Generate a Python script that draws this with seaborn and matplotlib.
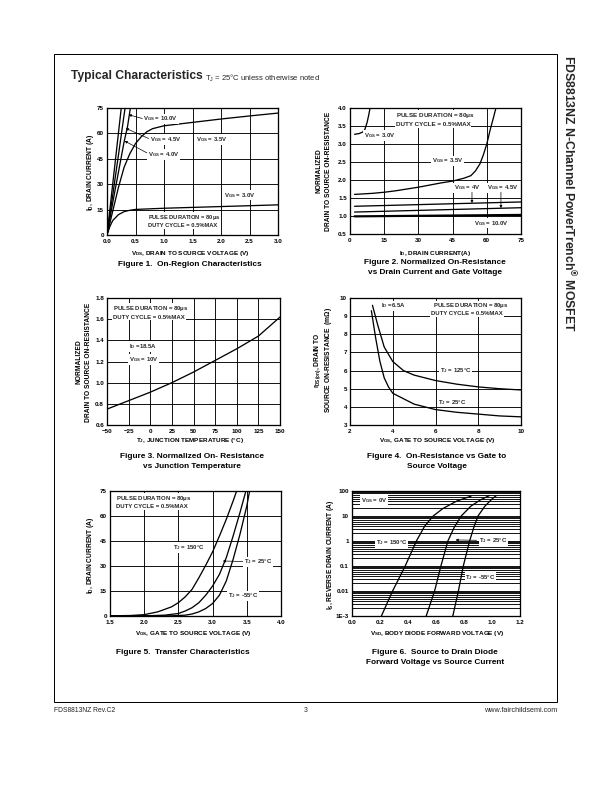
import numpy as np
import pandas as pd
import matplotlib
matplotlib.use("Agg")
import matplotlib.pyplot as plt
import seaborn as sns

# ---------------- data ----------------
# Figure 1: On-region characteristics (VDS V, ID A)
f1_vds_10 = [0.0, 0.1, 0.2, 0.26]
f1_id_10 = [0, 30, 60, 78]
f1_vds_45 = [0.0, 0.1, 0.2, 0.3, 0.33]
f1_id_45 = [0, 23.5, 47, 71, 78]
f1_vds_40 = [0.0, 0.1, 0.2, 0.3, 0.36, 0.41, 0.43]
f1_id_40 = [0, 19, 37, 55, 64, 75, 78]
f1_vds_35 = [0.0, 0.05, 0.1, 0.2, 0.3, 0.4, 0.5, 0.6, 0.7, 0.8, 1.0, 1.5, 2.0, 2.5, 3.0]
f1_id_35 = [0, 7, 14, 28, 40, 48, 54, 58, 61, 62.8, 64.5, 66.5, 68.5, 70.3, 72]
f1_vds_30 = [0.0, 0.05, 0.1, 0.2, 0.3, 0.4, 0.5, 1.0, 1.5, 2.0, 2.5, 3.0]
f1_id_30 = [0, 5, 8.5, 12, 13.8, 14.6, 15.1, 15.8, 16.3, 16.8, 17.3, 17.8]

# Figure 2: Normalized on-resistance vs ID
f2_id_30 = [2, 4, 5.5, 6.5, 7.5, 8.2, 8.8, 9.2]
f2_r_30 = [3.27, 3.29, 3.33, 3.4, 3.6, 3.8, 4.0, 4.2]
f2_id_35 = [2, 10, 15, 20, 30, 40, 45, 50, 53, 55, 57, 58.5, 60, 61.5, 63, 64.2]
f2_r_35 = [1.6, 1.63, 1.66, 1.7, 1.8, 1.92, 1.97, 2.05, 2.12, 2.25, 2.45, 2.7, 3.0, 3.4, 3.75, 4.05]
f2_id_4 = [2, 75]
f2_r_4 = [1.27, 1.39]
f2_id_45 = [2, 75]
f2_r_45 = [1.11, 1.23]
f2_id_10 = [2, 75]
f2_r_10 = [0.99, 1.03]

# Figure 3: Normalized on-resistance vs junction temperature
f3_tj = [-50, -25, 0, 25, 50, 75, 100, 125, 150]
f3_r = [0.75, 0.83, 0.91, 1.0, 1.1, 1.21, 1.32, 1.44, 1.62]

# Figure 4: rDS(on) vs VGS
f4_vgs_125 = [3.05, 3.3, 3.6, 4.0, 4.5, 5.0, 6.0, 7.0, 8.0, 9.0, 10.0]
f4_r_125 = [9.6, 8.5, 7.3, 6.5, 6.0, 5.75, 5.45, 5.25, 5.1, 5.0, 4.93]
f4_vgs_25 = [3.0, 3.2, 3.4, 3.6, 3.8, 4.0, 5.0, 6.0, 7.0, 8.0, 9.0, 10.0]
f4_r_25 = [9.3, 7.8, 6.5, 5.6, 5.1, 4.75, 4.15, 3.85, 3.7, 3.6, 3.5, 3.45]

# Figure 5: Transfer characteristics
f5_vgs_150 = [1.5, 1.8, 2.0, 2.2, 2.4, 2.5, 2.6, 2.7, 2.8, 2.9, 3.0, 3.1, 3.2, 3.3, 3.36]
f5_id_150 = [0.1, 0.3, 0.8, 2.5, 5.5, 8, 11.5, 16, 23, 30.5, 38.5, 48, 58, 69, 76]
f5_vgs_25 = [1.5, 2.0, 2.3, 2.5, 2.6, 2.7, 2.8, 2.9, 3.0, 3.1, 3.2, 3.3, 3.4, 3.5]
f5_id_25 = [0, 0.1, 0.5, 1.5, 3, 5, 8, 12.5, 18, 25, 35, 48, 62, 77]
f5_vgs_m55 = [1.5, 2.4, 2.6, 2.7, 2.8, 2.9, 3.0, 3.1, 3.2, 3.3, 3.4, 3.5, 3.55]
f5_id_m55 = [0, 0.1, 0.5, 1.2, 2.5, 4.5, 7.5, 12.5, 21, 34, 49, 66, 77]

# Figure 6: Source to drain diode forward voltage
f6_vsd_150 = [0.21, 0.29, 0.38, 0.46, 0.52, 0.58, 0.65, 0.75, 0.85]
f6_is_150 = [1e-3, 0.01, 0.1, 1, 4, 10, 20, 40, 62]
f6_vsd_25 = [0.53, 0.59, 0.635, 0.685, 0.73, 0.78, 0.85, 0.92, 0.98]
f6_is_25 = [1e-3, 0.01, 0.1, 1, 3.5, 10, 25, 45, 65]
f6_vsd_m55 = [0.72, 0.76, 0.795, 0.84, 0.87, 0.9, 0.95, 1.0, 1.03]
f6_is_m55 = [1e-3, 0.01, 0.1, 1, 3.5, 10, 25, 48, 65]

# ---------------- style ----------------
sns.set_theme(style="white")
plt.rcParams['font.family'] = ['Liberation Sans', 'DejaVu Sans']
plt.rcParams['mathtext.fontset'] = 'custom'
plt.rcParams['mathtext.rm'] = 'Liberation Sans:bold'
plt.rcParams['mathtext.it'] = 'Liberation Sans:bold'
plt.rcParams['mathtext.bf'] = 'Liberation Sans:bold'
plt.rcParams['mathtext.sf'] = 'Liberation Sans'
plt.rcParams['mathtext.default'] = 'rm'

W, H = 612, 792
fig = plt.figure(figsize=(W / 72, H / 72), dpi=72)
fig.patch.set_facecolor('white')

TICK = 6.3
NOTE = 6.0
XLAB = 6.4
YLAB = 6.6
CAP = 8.2


def P(x, y):
    return x / W, 1 - y / H


def ftext(x, y, s, **kw):
    d = dict(fontsize=XLAB, fontweight='bold', ha='center', va='center', color='black')
    d.update(kw)
    fig.text(*P(x, y), s, **d)


def make_ax(l, t, r, b):
    ax = fig.add_axes([l / W, 1 - b / H, (r - l) / W, (b - t) / H])
    ax.set_facecolor('white')
    for s in ax.spines.values():
        s.set_visible(True)
        s.set_color('black')
        s.set_linewidth(1.3)
    ax.tick_params(axis='x', length=0, pad=4.2, labelsize=TICK, colors='black')
    ax.tick_params(axis='y', length=0, pad=3.0, labelsize=TICK, colors='black')
    return ax


def grid(ax, xs=None, ys=None, lw=0.9):
    for x in (xs or []):
        ax.axvline(x, color='black', lw=lw, zorder=1)
    for y in (ys or []):
        ax.axhline(y, color='black', lw=lw, zorder=1)


def curve(ax, x, y, lw=1.3):
    sns.lineplot(x=x, y=y, ax=ax, color='black', lw=lw, sort=False, zorder=3, legend=False)


def note(ax, x, y, s, ha='left', size=NOTE):
    ax.text(x, y, s, ha=ha, va='center', fontsize=size, fontweight='bold', zorder=6,
            bbox=dict(fc='white', ec='none', pad=0.8))


def arrow(ax, xy, xytext):
    ax.annotate('', xy=xy, xytext=xytext, zorder=6,
                arrowprops=dict(arrowstyle='-|>', lw=0.7, color='black', mutation_scale=5,
                                shrinkA=0, shrinkB=0))


def finish(ax):
    ax.set_xlabel('')
    ax.set_ylabel('')
    for lab in ax.get_xticklabels() + ax.get_yticklabels():
        lab.set_fontweight('bold')


# ---------------- page frame ----------------
fig.add_artist(plt.Rectangle(P(54, 702), (557 - 54) / W, (702 - 54) / H, transform=fig.transFigure,
                             fill=False, ec='black', lw=1.0))
fig.text(*P(71, 76), 'Typical Characteristics', fontsize=12, fontweight='bold', ha='left', va='center')
fig.text(*P(205, 78), r'T$_\mathsf{J}$ = 25°C unless otherwise noted', fontsize=7.6, ha='left', va='center')
fig.text(*P(569, 55), r'FDS8813NZ N-Channel PowerTrench$^{\circledR}$ MOSFET', fontsize=12.2,
         fontweight='bold', rotation=-90, ha='center', va='top')
fig.text(*P(54, 710), 'FDS8813NZ Rev.C2', fontsize=6.7, ha='left', va='center')
fig.text(*P(306, 710), '3', fontsize=6.7, ha='center', va='center')
fig.text(*P(557, 710), 'www.fairchildsemi.com', fontsize=7.2, ha='right', va='center')

# ---------------- Figure 1 ----------------
ax = make_ax(107, 108, 278, 235)
grid(ax, [0.5, 1.0, 1.5, 2.0, 2.5], [15, 30, 45, 60])
for xv, yv in [(f1_vds_10, f1_id_10), (f1_vds_45, f1_id_45), (f1_vds_40, f1_id_40),
               (f1_vds_35, f1_id_35), (f1_vds_30, f1_id_30)]:
    curve(ax, xv, yv)
ax.set_xlim(0, 3.0)
ax.set_ylim(0, 75)
ax.set_xticks(np.arange(0, 3.01, 0.5))
ax.set_xticklabels([f'{v:.1f}' for v in np.arange(0, 3.01, 0.5)])
ax.set_yticks(np.arange(0, 76, 15))
note(ax, 0.64, 68.5, r'V$_{GS}$ = 10.0V')
arrow(ax, (0.38, 71), (0.62, 68.8))
note(ax, 0.75, 56.5, r'V$_{GS}$ = 4.5V')
arrow(ax, (0.33, 63), (0.73, 57))
note(ax, 0.72, 47.5, r'V$_{GS}$ = 4.0V')
arrow(ax, (0.31, 55.5), (0.70, 48.5))
note(ax, 1.57, 56.5, r'V$_{GS}$ = 3.5V')
note(ax, 2.06, 23.5, r'V$_{GS}$ = 3.0V')
note(ax, 0.72, 10.4, r'PULSE DURATION = 80$\mu$s', size=5.8)
note(ax, 0.72, 5.4, 'DUTY CYCLE = 0.5%MAX', size=5.8)
finish(ax)
ftext(190, 254, r'V$_{DS}$, DRAIN TO SOURCE VOLTAGE (V)')
ftext(90, 172, r'I$_D$, DRAIN CURRENT (A)', rotation=90, fontsize=YLAB)
ftext(190, 265, 'Figure 1.  On-Region Characteristics', fontsize=CAP)

# ---------------- Figure 2 ----------------
ax = make_ax(350, 108, 521, 234)
grid(ax, [15, 30, 45, 60], [1.0, 1.5, 2.0, 2.5, 3.0, 3.5])
for xv, yv in [(f2_id_30, f2_r_30), (f2_id_35, f2_r_35), (f2_id_4, f2_r_4), (f2_id_45, f2_r_45)]:
    curve(ax, xv, yv)
curve(ax, f2_id_10, f2_r_10, lw=2.2)
ax.set_xlim(0, 75)
ax.set_ylim(0.5, 4.0)
ax.set_xticks(np.arange(0, 76, 15))
ax.set_yticks(np.arange(0.5, 4.01, 0.5))
ax.set_yticklabels([f'{v:.1f}' for v in np.arange(0.5, 4.01, 0.5)])
note(ax, 20, 3.79, r'PULSE DURATION = 80$\mu$s', size=6.3)
note(ax, 20, 3.55, 'DUTY CYCLE = 0.5%MAX', size=6.3)
note(ax, 6, 3.23, r'V$_{GS}$ = 3.0V')
note(ax, 36, 2.53, r'V$_{GS}$ = 3.5V')
note(ax, 45.5, 1.78, r'V$_{GS}$ = 4V')
arrow(ax, (53.5, 1.36), (53.5, 1.66))
note(ax, 60, 1.78, r'V$_{GS}$ = 4.5V')
arrow(ax, (66.2, 1.22), (66.2, 1.66))
note(ax, 54.5, 0.8, r'V$_{GS}$ = 10.0V')
finish(ax)
ftext(435, 253, r'I$_D$, DRAIN CURRENT(A)')
ftext(319, 171, 'NORMALIZED', rotation=90, fontsize=YLAB)
ftext(329, 171, 'DRAIN TO SOURCE ON-RESISTANCE', rotation=90, fontsize=YLAB)
ftext(435, 263, 'Figure 2. Normalized On-Resistance', fontsize=CAP)
ftext(435, 273, 'vs Drain Current and Gate Voltage', fontsize=CAP)

# ---------------- Figure 3 ----------------
ax = make_ax(107, 298, 280, 425)
grid(ax, [-25, 0, 25, 50, 75, 100, 125], [0.8, 1.0, 1.2, 1.4, 1.6])
curve(ax, f3_tj, f3_r)
ax.set_xlim(-50, 150)
ax.set_ylim(0.6, 1.8)
ax.set_xticks(np.arange(-50, 151, 25))
ax.set_yticks(np.arange(0.6, 1.81, 0.2))
ax.set_yticklabels([f'{v:.1f}' for v in np.arange(0.6, 1.81, 0.2)])
note(ax, -43, 1.70, r'PULSE DURATION = 80$\mu$s')
note(ax, -43, 1.62, 'DUTY CYCLE = 0.5%MAX')
note(ax, -25, 1.34, r'I$_D$ =18.5A')
note(ax, -25, 1.22, r'V$_{GS}$ = 10V')
finish(ax)
ftext(190, 441, r'T$_J$, JUNCTION TEMPERATURE (°C)')
ftext(79, 362, 'NORMALIZED', rotation=90, fontsize=YLAB)
ftext(89, 362, 'DRAIN TO SOURCE ON-RESISTANCE', rotation=90, fontsize=YLAB)
ftext(192, 457, 'Figure 3. Normalized On- Resistance', fontsize=CAP)
ftext(192, 467, 'vs Junction Temperature', fontsize=CAP)

# ---------------- Figure 4 ----------------
ax = make_ax(350, 298, 521, 425)
grid(ax, [4, 6, 8], [4, 5, 6, 7, 8, 9])
curve(ax, f4_vgs_125, f4_r_125)
curve(ax, f4_vgs_25, f4_r_25)
ax.set_xlim(2, 10)
ax.set_ylim(3, 10)
ax.set_xticks([2, 4, 6, 8, 10])
ax.set_yticks(np.arange(3, 11, 1))
note(ax, 3.45, 9.57, r'I$_D$ =6.5A')
note(ax, 5.9, 9.57, r'PULSE DURATION = 80$\mu$s')
note(ax, 5.8, 9.12, 'DUTY CYCLE = 0.5%MAX')
note(ax, 6.2, 5.98, r'T$_J$ = 125°C')
note(ax, 6.1, 4.26, r'T$_J$ = 25°C')
finish(ax)
ftext(437, 441, r'V$_{GS}$, GATE TO SOURCE VOLTAGE (V)')
ftext(318, 360, r'r$_{DS(on)}$, DRAIN TO', rotation=90, fontsize=YLAB)
ftext(329, 360, r'SOURCE ON-RESISTANCE  (m$\Omega$)', rotation=90, fontsize=YLAB)
ftext(437, 457, 'Figure 4.  On-Resistance vs Gate to', fontsize=CAP)
ftext(437, 467, 'Source Voltage', fontsize=CAP)

# ---------------- Figure 5 ----------------
ax = make_ax(110, 491, 281, 616)
grid(ax, [2.0, 2.5, 3.0, 3.5], [15, 30, 45, 60])
curve(ax, f5_vgs_150, f5_id_150)
curve(ax, f5_vgs_25, f5_id_25)
curve(ax, f5_vgs_m55, f5_id_m55)
ax.set_xlim(1.5, 4.0)
ax.set_ylim(0, 75)
ax.set_xticks(np.arange(1.5, 4.01, 0.5))
ax.set_xticklabels([f'{v:.1f}' for v in np.arange(1.5, 4.01, 0.5)])
ax.set_yticks(np.arange(0, 76, 15))
note(ax, 1.59, 70.6, r'PULSE DURATION = 80$\mu$s')
note(ax, 1.59, 65.8, 'DUTY CYCLE = 0.5%MAX')
note(ax, 2.42, 41, r'T$_J$ = 150°C')
note(ax, 3.46, 32.5, r'T$_J$ = 25°C')
arrow(ax, (3.15, 33), (3.44, 32.7))
note(ax, 3.22, 12, r'T$_J$ = -55°C')
finish(ax)
ftext(193, 633, r'V$_{GS}$, GATE TO SOURCE VOLTAGE (V)')
ftext(91, 555, r'I$_D$, DRAIN CURRENT (A)', rotation=90, fontsize=YLAB)
ftext(183, 652, 'Figure 5.  Transfer Characteristics', fontsize=CAP)

# ---------------- Figure 6 ----------------
ax = make_ax(352, 491, 520, 616)
ax.set_yscale('log')
ys = []
for d in [1e-3, 1e-2, 1e-1, 1, 10]:
    ys += [d * k for k in range(1, 10)]
grid(ax, [], [v for v in ys if v > 1e-3], lw=0.9)
curve(ax, f6_vsd_150, f6_is_150)
curve(ax, f6_vsd_25, f6_is_25)
curve(ax, f6_vsd_m55, f6_is_m55)
ax.set_xlim(0, 1.2)
ax.set_ylim(1e-3, 100)
ax.set_xticks(np.arange(0, 1.21, 0.2))
ax.set_xticklabels([f'{v:.1f}' for v in np.arange(0, 1.21, 0.2)])
ax.set_yticks([1e-3, 1e-2, 1e-1, 1, 10, 100])
ax.set_yticklabels(['1E-3', '0.01', '0.1', '1', '10', '100'])
ax.yaxis.set_minor_locator(matplotlib.ticker.NullLocator())
ax.tick_params(which='both', length=0)
note(ax, 0.065, 42, r'V$_{GS}$ = 0V')
note(ax, 0.17, 0.86, r'T$_J$ = 150°C')
note(ax, 0.91, 1.05, r'T$_J$ = 25°C')
arrow(ax, (0.74, 1.1), (0.89, 1.07))
note(ax, 0.81, 0.034, r'T$_J$ = -55°C')
finish(ax)
ftext(437, 633, r'V$_{SD}$, BODY DIODE FORWARD VOLTAGE (V)')
ftext(330, 555, r'I$_S$, REVERSE DRAIN CURRENT (A)', rotation=90, fontsize=YLAB)
ftext(435, 652, 'Figure 6.  Source to Drain Diode', fontsize=CAP)
ftext(435, 662, 'Forward Voltage vs Source Current', fontsize=CAP)

fig.savefig('out.png', dpi=72, facecolor='white')
